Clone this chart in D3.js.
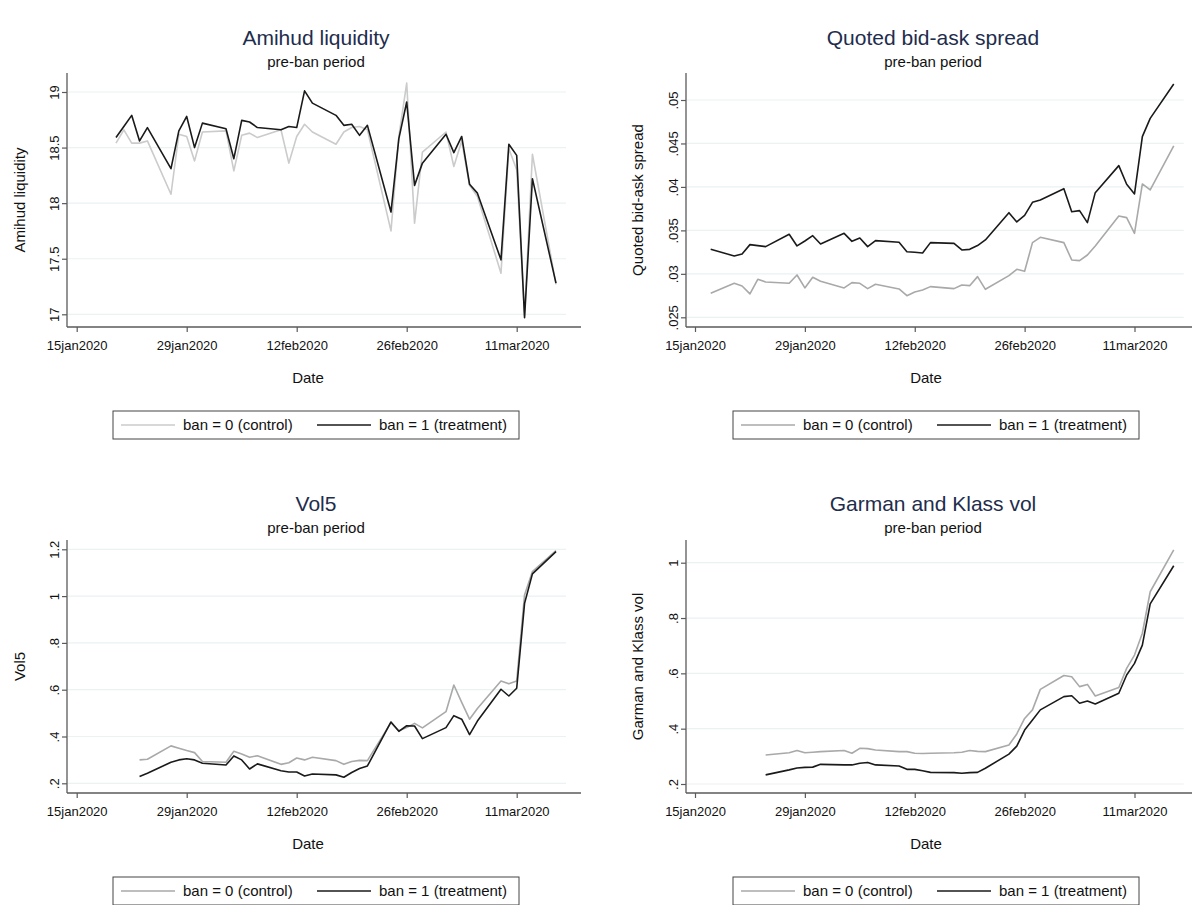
<!DOCTYPE html>
<html>
<head>
<meta charset="utf-8">
<script src="https://cdn.jsdelivr.net/npm/d3@7"></script>
<style>
  html, body { margin: 0; padding: 0; background: #fff; }
  svg { display: block; font-family: "Liberation Sans", Arial, sans-serif; }
</style>
</head>
<body>
<svg id="chart" width="1192" height="905"></svg>
<script>
// Trading days in the pre-ban window
const tradingDays = [
  "2020-01-17",
  "2020-01-20","2020-01-21","2020-01-22","2020-01-23","2020-01-24",
  "2020-01-27","2020-01-28","2020-01-29","2020-01-30","2020-01-31",
  "2020-02-03","2020-02-04","2020-02-05","2020-02-06","2020-02-07",
  "2020-02-10","2020-02-11","2020-02-12","2020-02-13","2020-02-14",
  "2020-02-17","2020-02-18","2020-02-19","2020-02-20","2020-02-21",
  "2020-02-24","2020-02-25","2020-02-26","2020-02-27","2020-02-28",
  "2020-03-02","2020-03-03","2020-03-04","2020-03-05","2020-03-06",
  "2020-03-09","2020-03-10","2020-03-11","2020-03-12","2020-03-13",
  "2020-03-16"
];

const xTickDates = ["2020-01-15","2020-01-29","2020-02-12","2020-02-26","2020-03-11"];

const legendLabels = ["ban = 0 (control)", "ban = 1 (treatment)"];

// Amihud liquidity
const amihudControl = [null,
  18.54, 18.66, 18.54, 18.54, 18.56,
  18.08, 18.62, 18.60, 18.38, 18.64,
  18.65, 18.29, 18.61, 18.63, 18.59,
  18.66, 18.36, 18.60, 18.71, 18.64,
  18.53, 18.64, 18.68, 18.69, 18.66,
  17.75, 18.60, 19.08, 17.82, 18.46,
  18.64, 18.33, 18.56, 18.16, 18.06,
  17.37, 18.49, 18.30, 16.99, 18.44,
  17.27];
const amihudTreatment = [null,
  18.59, 18.69, 18.79, 18.56, 18.68,
  18.31, 18.65, 18.78, 18.50, 18.72,
  18.67, 18.40, 18.745, 18.73, 18.68,
  18.66, 18.69, 18.68, 19.01, 18.90,
  18.79, 18.70, 18.71, 18.61, 18.70,
  17.92, 18.58, 18.91, 18.16, 18.36,
  18.62, 18.455, 18.60, 18.17, 18.09,
  17.49, 18.53, 18.43, 16.97, 18.22,
  17.28];
const amihudTicks = [17, 17.5, 18, 18.5, 19];
const amihudTickLabels = ["17", "17.5", "18", "18.5", "19"];

// Quoted bid-ask spread
const spreadControl = [0.02776,
  0.02891, 0.02860, 0.02769, 0.02937, 0.02907,
  0.02891, 0.02987, 0.02838, 0.02960, 0.02914,
  0.02838, 0.02899, 0.02891, 0.02830, 0.02880,
  0.02826, 0.02749, 0.02792, 0.02815, 0.02853,
  0.02830, 0.02872, 0.02864, 0.02968, 0.02822,
  0.02979, 0.03052, 0.03029, 0.03359, 0.03420,
  0.03359, 0.03160, 0.03152, 0.03217, 0.03321,
  0.03666, 0.03647, 0.03466, 0.04034, 0.03965,
  0.04471];
const spreadTreatment = [0.03282,
  0.03206, 0.03229, 0.03336, 0.03325, 0.03313,
  0.03455, 0.03321, 0.03378, 0.03439, 0.03344,
  0.03466, 0.03374, 0.03413, 0.03313, 0.03382,
  0.03363, 0.03255, 0.03248, 0.03240, 0.03359,
  0.03351, 0.03275, 0.03282, 0.03325, 0.03390,
  0.03704, 0.03597, 0.03673, 0.03823, 0.03850,
  0.03980, 0.03715, 0.03727, 0.03589, 0.03934,
  0.04245, 0.04030, 0.03919, 0.04578, 0.04789,
  0.05184];
const spreadTicks = [0.025, 0.03, 0.035, 0.04, 0.045, 0.05];
const spreadTickLabels = [".025", ".03", ".035", ".04", ".045", ".05"];

// Vol5
const vol5Control = [null,
  null, null, null, 0.300, 0.303,
  0.360, 0.350, 0.340, 0.331, 0.293,
  0.290, 0.337, 0.325, 0.311, 0.318,
  0.281, 0.288, 0.308, 0.300, 0.311,
  0.297, 0.281, 0.293, 0.298, 0.297,
  0.459, 0.425, 0.438, 0.456, 0.437,
  0.506, 0.620, 0.546, 0.474, 0.520,
  0.637, 0.625, 0.637, 1.005, 1.105,
  1.194];
const vol5Treatment = [null,
  null, null, null, 0.229, 0.243,
  0.290, 0.300, 0.305, 0.300, 0.286,
  0.278, 0.317, 0.300, 0.261, 0.283,
  0.254, 0.248, 0.248, 0.231, 0.240,
  0.236, 0.226, 0.246, 0.263, 0.274,
  0.462, 0.422, 0.446, 0.445, 0.391,
  0.438, 0.489, 0.474, 0.408, 0.466,
  0.602, 0.573, 0.606, 0.969, 1.095,
  1.190];
const vol5Ticks = [0.2, 0.4, 0.6, 0.8, 1, 1.2];
const vol5TickLabels = [".2", ".4", ".6", ".8", "1", "1.2"];

// Garman and Klass volatility
const gkControl = [null,
  null, null, null, null, 0.305,
  0.313, 0.321, 0.313, 0.315, 0.317,
  0.321, 0.311, 0.329, 0.328, 0.323,
  0.317, 0.317, 0.311, 0.310, 0.311,
  0.313, 0.315, 0.321, 0.318, 0.317,
  0.341, 0.381, 0.437, 0.468, 0.542,
  0.592, 0.588, 0.552, 0.560, 0.518,
  0.549, 0.618, 0.666, 0.745, 0.895,
  1.046];
const gkTreatment = [null,
  null, null, null, null, 0.233,
  0.251, 0.258, 0.260, 0.261, 0.271,
  0.269, 0.269, 0.275, 0.278, 0.269,
  0.265, 0.253, 0.253, 0.248, 0.242,
  0.241, 0.239, 0.241, 0.242, 0.257,
  0.308, 0.337, 0.395, 0.431, 0.468,
  0.516, 0.519, 0.492, 0.500, 0.489,
  0.528, 0.594, 0.636, 0.702, 0.851,
  0.989];
const gkTicks = [0.2, 0.4, 0.6, 0.8, 1];
const gkTickLabels = [".2", ".4", ".6", ".8", "1"];

// ---------------------------------------------------------------
const parse = d3.timeParse("%Y-%m-%d");
const days = tradingDays.map(parse);
const xTicks = xTickDates.map(parse);
const fmtDate = d => d3.timeFormat("%d%b%Y")(d).toLowerCase();

const svg = d3.select("#chart");

const AXIS_COLOR = "#5a5a5a";
const GRID_COLOR = "#eaf2f3";
const TITLE_COLOR = "#1e2d4d";
const DARK = "#1a1a1a";

// Panel frames: left column / right column, top row / bottom row
const cols = [
  { axisX: 67,  x0: 76.7, x1: 516.7, titleX: 316, dateX: 308, legendX: 113, yTitleX: 20 },
  { axisX: 686, x0: 695,  x1: 1134.5, titleX: 933, dateX: 926, legendX: 733, yTitleX: 638 }
];
const rows = [
  { top: 73,  base: 327, titleY: 45,  subY: 67,  dateY: 383, legendY: 411 },
  { top: 540, base: 793, titleY: 511, subY: 533, dateY: 849, legendY: 877 }
];

const panels = [
  { col: 0, row: 0, title: "Amihud liquidity", yLabel: "Amihud liquidity",
    control: amihudControl, treatment: amihudTreatment,
    ticks: amihudTicks, tickLabels: amihudTickLabels,
    yAnchor: [17, 314.3, 19, 92], gray: "#cbcbcb" },
  { col: 1, row: 0, title: "Quoted bid-ask spread", yLabel: "Quoted bid-ask spread",
    control: spreadControl, treatment: spreadTreatment,
    ticks: spreadTicks, tickLabels: spreadTickLabels,
    yAnchor: [0.025, 317.3, 0.05, 100], gray: "#a9a9a9" },
  { col: 0, row: 1, title: "Vol5", yLabel: "Vol5",
    control: vol5Control, treatment: vol5Treatment,
    ticks: vol5Ticks, tickLabels: vol5TickLabels,
    yAnchor: [0.2, 783.3, 1.2, 549.3], gray: "#a9a9a9" },
  { col: 1, row: 1, title: "Garman and Klass vol", yLabel: "Garman and Klass vol",
    control: gkControl, treatment: gkTreatment,
    ticks: gkTicks, tickLabels: gkTickLabels,
    yAnchor: [0.2, 784, 1, 562.7], gray: "#a9a9a9" }
];

panels.forEach(p => {
  const c = cols[p.col], r = rows[p.row];
  const g = svg.append("g");

  const x = d3.scaleTime().domain([xTicks[0], xTicks[4]]).range([c.x0, c.x1]);
  const y = d3.scaleLinear().domain([p.yAnchor[0], p.yAnchor[2]]).range([p.yAnchor[1], p.yAnchor[3]]);

  const plotRight = x(days[days.length - 1]) + 10;
  const axisRight = plotRight + 15;

  // horizontal grid
  g.append("g").selectAll("line").data(p.ticks).join("line")
    .attr("x1", c.axisX + 1).attr("x2", plotRight)
    .attr("y1", d => y(d)).attr("y2", d => y(d))
    .attr("stroke", GRID_COLOR).attr("stroke-width", 1.2);

  // y axis
  const yAxis = g.append("g").attr("transform", `translate(${c.axisX},0)`)
    .call(d3.axisLeft(y).tickValues(p.ticks)
      .tickFormat((d, i) => p.tickLabels[i]).tickSize(5).tickSizeOuter(0));
  yAxis.select(".domain").remove();
  yAxis.selectAll(".tick line").attr("stroke", AXIS_COLOR).attr("stroke-width", 1.2);
  yAxis.selectAll(".tick text")
    .attr("transform", "rotate(-90)")
    .attr("x", 0).attr("y", -8).attr("dy", 0)
    .attr("text-anchor", "middle")
    .attr("font-size", 13).attr("fill", "#111")
    .attr("font-family", "Liberation Sans, Arial, sans-serif");
  g.append("line")
    .attr("x1", c.axisX).attr("x2", c.axisX)
    .attr("y1", r.top).attr("y2", r.base)
    .attr("stroke", AXIS_COLOR).attr("stroke-width", 1.3);

  // x axis
  const xAxis = g.append("g").attr("transform", `translate(0,${r.base})`)
    .call(d3.axisBottom(x).tickValues(xTicks).tickFormat(fmtDate).tickSize(5).tickSizeOuter(0));
  xAxis.select(".domain").remove();
  xAxis.selectAll(".tick line").attr("stroke", AXIS_COLOR).attr("stroke-width", 1.2);
  xAxis.selectAll(".tick text")
    .attr("y", 14).attr("dy", "0.71em")
    .attr("font-size", 13).attr("fill", "#111")
    .attr("font-family", "Liberation Sans, Arial, sans-serif");
  g.append("line")
    .attr("x1", c.axisX).attr("x2", axisRight)
    .attr("y1", r.base).attr("y2", r.base)
    .attr("stroke", AXIS_COLOR).attr("stroke-width", 1.3);

  // series
  const line = vals => d3.line()
    .defined((d, i) => vals[i] !== null)
    .x((d, i) => x(days[i]))
    .y((d, i) => y(vals[i]))(vals);

  g.append("path").attr("d", line(p.control))
    .attr("fill", "none").attr("stroke", p.gray).attr("stroke-width", 1.6)
    .attr("stroke-linejoin", "round");
  g.append("path").attr("d", line(p.treatment))
    .attr("fill", "none").attr("stroke", DARK).attr("stroke-width", 1.6)
    .attr("stroke-linejoin", "round");

  // titles
  g.append("text").attr("x", c.titleX).attr("y", r.titleY)
    .attr("text-anchor", "middle").attr("font-size", 21).attr("fill", TITLE_COLOR)
    .text(p.title);
  g.append("text").attr("x", c.titleX).attr("y", r.subY)
    .attr("text-anchor", "middle").attr("font-size", 15).attr("fill", "#111")
    .text("pre-ban period");

  // axis titles
  g.append("text").attr("x", c.dateX).attr("y", r.dateY)
    .attr("text-anchor", "middle").attr("font-size", 15).attr("fill", "#111")
    .text("Date");
  const ymid = (r.top + r.base) / 2;
  g.append("text")
    .attr("transform", `translate(${c.yTitleX},${ymid}) rotate(-90)`)
    .attr("text-anchor", "middle").attr("dy", "0.35em")
    .attr("font-size", 15).attr("fill", "#111")
    .text(p.yLabel);

  // legend
  const lg = g.append("g").attr("transform", `translate(${c.legendX},${r.legendY})`);
  lg.append("rect").attr("x", 0).attr("y", 0).attr("width", 406).attr("height", 28)
    .attr("fill", "#fff").attr("stroke", "#444").attr("stroke-width", 1);
  const items = [
    { color: p.gray, label: legendLabels[0], x: 8 },
    { color: DARK, label: legendLabels[1], x: 204 }
  ];
  items.forEach(it => {
    lg.append("line").attr("x1", it.x).attr("x2", it.x + 54)
      .attr("y1", 14).attr("y2", 14)
      .attr("stroke", it.color).attr("stroke-width", 1.6);
    lg.append("text").attr("x", it.x + 62).attr("y", 14).attr("dy", "0.35em")
      .attr("font-size", 15).attr("fill", "#111").text(it.label);
  });
});
</script>
</body>
</html>
